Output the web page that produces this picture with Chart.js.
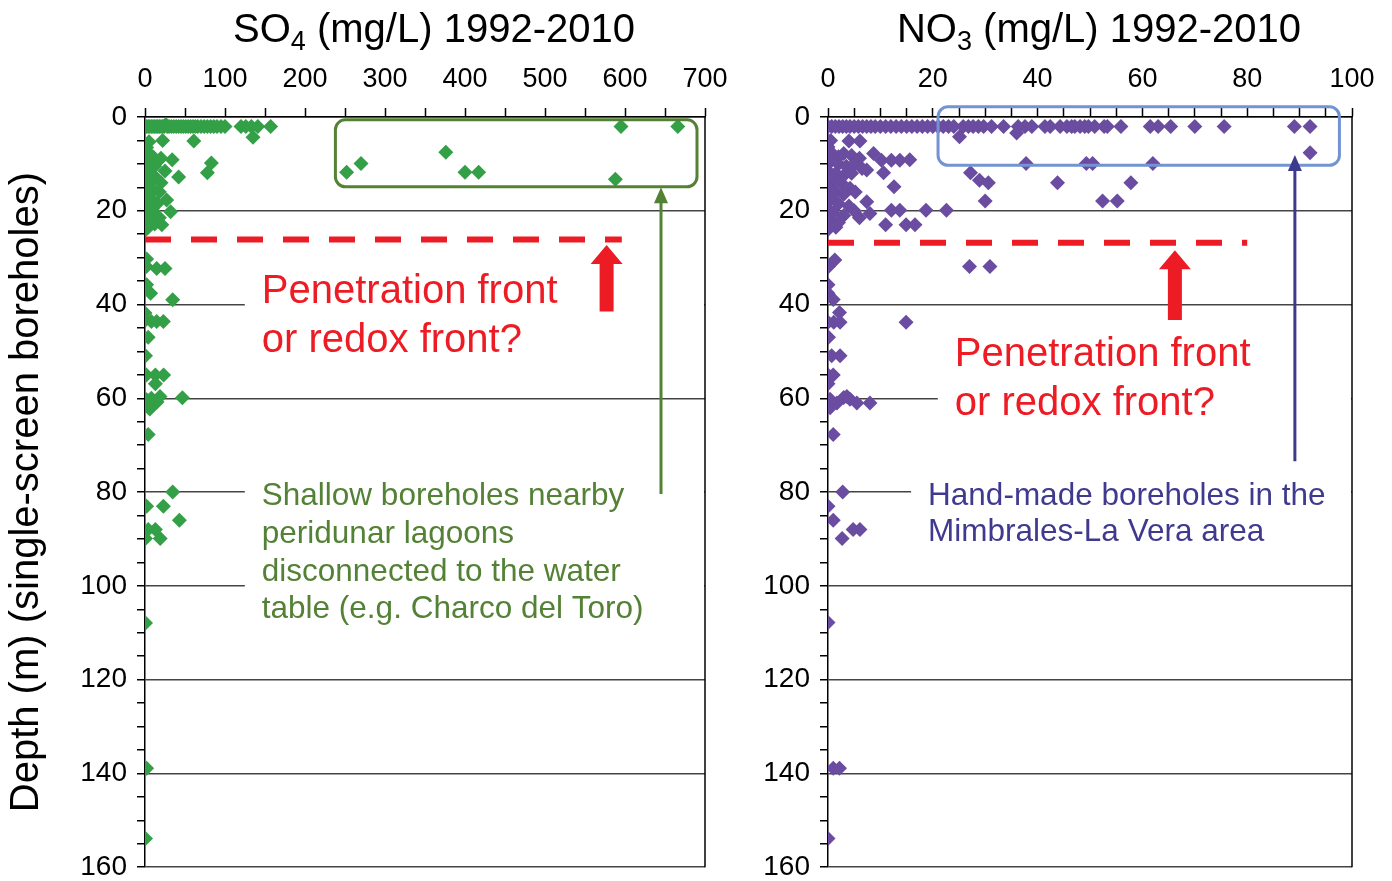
<!DOCTYPE html>
<html lang="en">
<head>
    <meta charset="UTF-8">
    <title>SO4 and NO3 versus depth</title>
    <script src="https://cdn.jsdelivr.net/npm/chart.js"></script>
    <style>
        body {
            margin: 0;
            background: #fff;
            overflow: hidden;
        }
        #wrap {
            position: relative;
            width: 1392px;
            height: 881px;
            overflow: hidden;
        }
        canvas {
            position: absolute;
            top: 0;
        }
        #so4Chart { left: 0; }
        #no3Chart { left: 700px; }
    </style>
</head>
<body>
<div id="wrap">
    <canvas id="so4Chart" width="760" height="894"></canvas>
    <canvas id="no3Chart" width="692" height="894"></canvas>
</div>

<script>
// ---- data ----
// SO4 (mg/L) and depth (m), same order in both arrays
const so4Values = [
    0, 2, 4, 6, 8, 10, 12, 14, 16, 18, 20, 22, 24, 26, 28, 30, 33, 36, 39, 42, 45,
    48, 51, 54, 57, 60, 63, 66, 70, 74, 78, 82, 86, 90, 95, 100, 120, 126, 133, 141, 157,
    595, 666, 376, 270, 252, 400, 417, 588,
    135, 61, 22, 83, 78, 42, 34, 27, 32,
    5, 2, 5, 10, 20, 15, 3, 8, 12, 25, 2, 6, 14, 20, 3, 10, 18, 2, 8, 15, 4, 10, 2, 18, 6, 21, 1, 12, 4, 9,
    0, 0, 0, 1,
    2, 1.7, 14.6, 25, 2, 7, 34.6, 0, 0.6, 8,
    14.6, 23, 4, 0.6, 1.7, 13, 23.3, 13, 2, 46.7,
    18.75, 4, 0, 8, 12, 15, 6, 4, 34.6, 2,
    23, 43, 4, 13, 0.6, 19, 0.6, 2, 0.6
];
const so4Depths = [
    2, 2, 2, 2, 2, 2, 2, 2, 2, 2, 2, 2, 2, 1.6, 2, 2, 2, 2, 2, 2, 2,
    2, 2, 2, 2, 2, 2, 2, 2, 2, 2, 2, 2, 2, 2, 2, 2, 2, 2, 2, 2,
    2, 2, 7.5, 9.9, 11.8, 11.8, 11.8, 13.3,
    4.3, 5.1, 5.0, 9.8, 11.9, 12.8, 9.1, 17.7, 20.2,
    5.3, 6.5, 7.8, 8.5, 8.8, 9.5, 10, 11, 10.5, 11.5, 12.5, 13.5, 13, 14, 15, 15.5, 16, 17, 17.5, 18.5, 19, 20, 21, 21.5, 22, 23, 24, 22.8, 23.5, 19.5,
    14, 18, 20, 9,
    30.3, 31.9, 32.3, 32.3, 35.8, 37.6, 39, 41.8, 43.3, 43.6,
    43.6, 43.6, 47, 50.9, 55, 55, 55, 56.9, 60.3, 59.9,
    59.6, 61.4, 60.5, 60, 61, 60.8, 62.3, 67.7, 80, 83,
    83, 86, 88, 88, 89.9, 89.9, 107.9, 138.9, 153.9
];

// NO3 (mg/L) and depth (m)
const no3Values = [
    0, 0.7, 1.4, 2.1, 2.8, 3.5, 4.2, 5, 5.8, 6.6, 7.4, 8.2, 9, 10, 11, 12, 13, 14, 15, 16,
    17, 18, 19, 20, 21, 22, 23, 24, 25.8, 26.8, 27.7, 28.7, 29.7, 31.2, 33.5, 36.3, 37.6, 38.9, 41.4, 42.4,
    44.3, 45.6, 46.5, 47.1, 48.1, 49, 49.7, 50.9, 52.7, 53.3, 55.9, 61.5, 63, 65.4, 70, 75.6, 89, 92,
    36, 25.1, 0.5, 0, 4, 6.1, 27.2, 28.9, 30.6, 37.8,
    49.3, 50.5, 62, 43.8, 57.8, 30, 52.4, 55.2, 92, 8.7,
    10.2, 12.1, 13.7, 15.6, 10.6, 7.4, 12.6, 4.2,
    5.2, 7.4, 8, 12.1, 13.7, 18.7, 22.6, 11, 14.9, 16.6, 6, 5,
    0, 1, 2, 3, 4.5, 6, 0.5, 2, 3.5, 5, 6.5, 0, 1.5, 3, 4.5,
    1, 2.5, 0, 1.5, 3, 0.5, 2, 4, 0, 1, 3, 0.5, 2, 0, 1.5,
    0.1, 1.3, 27, 30.9, 0, 0, 1, 2.2, 0, 1.1,
    2.3, 14.9, 0.1, 0.7, 2.3, 0, 1, 0, 0.4, 1.7,
    3, 3.6, 4.2, 5.5, 0.4, 8, 1, 2.8, 0, 1,
    2.7, 4.8, 6.1, 0, 1, 2.2, 0
];
const no3Depths = [
    2, 2, 2, 2, 2, 2, 2, 2, 2, 2, 2, 2, 2, 2, 2, 2, 2, 2, 2, 2,
    2, 2, 2, 2, 2, 2, 2, 2, 2, 2, 2, 2, 2, 2, 2, 2, 2, 2, 2, 2,
    2, 2, 2, 2, 2, 2, 2, 2, 2, 2, 2, 2, 2, 2, 2, 2, 2, 2,
    3.4, 4.2, 5, 6.4, 5.1, 5.1, 11.9, 13.5, 14, 9.9,
    9.9, 9.9, 9.9, 14, 14, 17.9, 17.9, 17.9, 7.6, 7.8,
    9.2, 9.2, 9.2, 9.1, 11.9, 11.3, 14.9, 15.2,
    16, 18.1, 20.6, 19.9, 19.9, 19.9, 19.9, 23, 23, 23, 21.5, 20,
    7.5, 8, 8.5, 7.8, 8.2, 8.8, 9.5, 10, 10.5, 10, 11, 11.5, 12, 12.5, 12,
    13.5, 14, 15, 16, 16.5, 17.5, 18.5, 19, 19.5, 20.5, 21, 22, 22.5, 24, 23.5,
    31.9, 30.5, 31.9, 31.9, 35.8, 37.6, 38.9, 41.7, 43.8, 43.8,
    43.8, 43.8, 47, 50.9, 50.9, 55, 55, 56.9, 60.2, 61,
    59.8, 59.6, 60.2, 61, 62, 61, 67.7, 80, 83, 86,
    89.9, 88, 88, 107.8, 138.9, 138.9, 153.9
];

// axis ticks
const so4TickLabels = [0, 100, 200, 300, 400, 500, 600, 700];
const no3TickLabels = [0, 20, 40, 60, 80, 100];
const depthTickLabels = [0, 20, 40, 60, 80, 100, 120, 140, 160];

const FONT = '"Liberation Sans", Arial, sans-serif';
const RED = '#ED1C24';

function toPoints(xs, ys) {
    return xs.map((v, i) => ({ x: v, y: ys[i] }));
}

// draws titles, frame and the hand-drawn notes of the figure, in data units
const notes = {
    id: 'notes',
    afterDatasetsDraw(chart, args, opts) {
        const { ctx, chartArea: a } = chart;
        const X = v => chart.scales.x.getPixelForValue(v);
        const Y = v => chart.scales.y.getPixelForValue(v);
        ctx.save();

        // title with subscript
        const t = opts.title;
        const big = '40px ' + FONT, small = '27px ' + FONT;
        ctx.fillStyle = '#000';
        ctx.textBaseline = 'alphabetic';
        ctx.textAlign = 'left';
        ctx.font = big;
        const w1 = ctx.measureText(t.main).width, w3 = ctx.measureText(t.rest).width;
        ctx.font = small;
        const w2 = ctx.measureText(t.sub).width;
        let tx = (a.left + a.right) / 2 + 9 - (w1 + w2 + w3) / 2;
        ctx.font = big; ctx.fillText(t.main, tx, 42); tx += w1;
        ctx.font = small; ctx.fillText(t.sub, tx, 50); tx += w2;
        ctx.font = big; ctx.fillText(t.rest, tx, 42);

        opts.items.forEach(it => {
            if (it.type === 'text') {
                ctx.font = it.size + 'px ' + FONT;
                const lh = Y(it.y[1]) - Y(it.y[0]);
                ctx.fillStyle = '#fff';
                ctx.fillRect(X(it.x) - 17, Y(it.y[0]) - lh / 2, a.right - X(it.x) + 16, Y(it.y[it.y.length - 1]) - Y(it.y[0]) + lh);
                ctx.fillStyle = it.color;
                ctx.textBaseline = 'middle';
                it.lines.forEach((s, i) => ctx.fillText(s, X(it.x), Y(it.y[i])));
            } else if (it.type === 'dash') {
                ctx.strokeStyle = RED;
                ctx.lineWidth = 6;
                ctx.setLineDash([26, 20]);
                ctx.beginPath();
                ctx.moveTo(X(it.x0), Y(it.y));
                ctx.lineTo(X(it.x1), Y(it.y));
                ctx.stroke();
                ctx.setLineDash([]);
            } else if (it.type === 'box') {
                const x0 = X(it.x0), x1 = X(it.x1), y0 = Y(it.y0), y1 = Y(it.y1), r = 10;
                ctx.strokeStyle = it.color;
                ctx.lineWidth = 3;
                ctx.beginPath();
                ctx.moveTo(x0 + r, y0);
                ctx.arcTo(x1, y0, x1, y1, r);
                ctx.arcTo(x1, y1, x0, y1, r);
                ctx.arcTo(x0, y1, x0, y0, r);
                ctx.arcTo(x0, y0, x1, y0, r);
                ctx.closePath();
                ctx.stroke();
            } else if (it.type === 'bigArrow') {
                const x = X(it.x), tip = Y(it.to), end = Y(it.from);
                ctx.fillStyle = RED;
                ctx.beginPath();
                ctx.moveTo(x, tip);
                ctx.lineTo(x + 16, tip + 19);
                ctx.lineTo(x + 7, tip + 19);
                ctx.lineTo(x + 7, end);
                ctx.lineTo(x - 7, end);
                ctx.lineTo(x - 7, tip + 19);
                ctx.lineTo(x - 16, tip + 19);
                ctx.closePath();
                ctx.fill();
            } else if (it.type === 'arrow') {
                const x = X(it.x), tip = Y(it.to), end = Y(it.from);
                ctx.strokeStyle = it.color;
                ctx.fillStyle = it.color;
                ctx.lineWidth = 3;
                ctx.beginPath();
                ctx.moveTo(x, end);
                ctx.lineTo(x, tip + 12);
                ctx.stroke();
                ctx.beginPath();
                ctx.moveTo(x, tip);
                ctx.lineTo(x + 7, tip + 16);
                ctx.lineTo(x - 7, tip + 16);
                ctx.closePath();
                ctx.fill();
            }
        });

        // right-hand frame line
        ctx.strokeStyle = '#000';
        ctx.lineWidth = 1.5;
        ctx.beginPath();
        ctx.moveTo(a.right, a.top);
        ctx.lineTo(a.right, a.bottom);
        ctx.stroke();
        ctx.restore();
    }
};

function makeChart(id, pts, color, xMax, xStep, xLabels, yWidth, yTitle, padRight, plugOpts) {
    const ctx = document.getElementById(id).getContext('2d');
    return new Chart(ctx, {
        type: 'scatter',
        data: {
            datasets: [{
                data: pts,
                pointStyle: 'rectRot',
                pointRadius: 7.5,
                backgroundColor: color,
                borderColor: color,
                borderWidth: 0
            }]
        },
        options: {
            responsive: false,
            animation: false,
            devicePixelRatio: 1,
            layout: { padding: { left: 0, right: padRight, top: 0, bottom: 2 } },
            plugins: {
                legend: { display: false },
                tooltip: { enabled: false },
                notes: plugOpts
            },
            scales: {
                x: {
                    type: 'linear',
                    position: 'top',
                    min: 0,
                    max: xMax,
                    afterFit: s => { s.height = 117; },
                    afterBuildTicks: s => { s.ticks = []; for (let v = 0; v <= xMax; v += xStep) s.ticks.push({ value: v }); },
                    ticks: {
                        autoSkip: false,
                        maxRotation: 0,
                        padding: 12,
                        color: '#000',
                        font: { family: FONT, size: 27 },
                        callback: v => xLabels.includes(v) ? v : ''
                    },
                    grid: { drawOnChartArea: false, tickLength: 9, tickColor: '#000', tickWidth: 1.5 },
                    border: { color: '#000', width: 1.5 }
                },
                y: {
                    type: 'linear',
                    reverse: true,
                    min: 0,
                    max: 160,
                    afterFit: s => { s.width = yWidth; },
                    afterBuildTicks: s => { s.ticks = []; for (let v = 0; v <= 160; v += 5) s.ticks.push({ value: v }); },
                    ticks: {
                        autoSkip: false,
                        padding: 10,
                        color: '#000',
                        font: { family: FONT, size: 28 },
                        callback: v => depthTickLabels.includes(v) ? v : ''
                    },
                    grid: {
                        color: c => (c.tick && c.tick.value % 20 === 0) ? '#444' : 'rgba(0,0,0,0)',
                        lineWidth: 1.5,
                        tickLength: 8,
                        tickColor: '#000',
                        tickWidth: 1.5
                    },
                    border: { color: '#000', width: 1.5 },
                    title: {
                        display: !!yTitle,
                        text: yTitle,
                        color: '#000',
                        font: { family: FONT, size: 40 },
                        padding: { top: 3, bottom: 0 }
                    }
                }
            }
        },
        plugins: [notes]
    });
}

makeChart('so4Chart', toPoints(so4Values, so4Depths), '#33A047', 700, 50, so4TickLabels, 145,
    'Depth (m) (single-screen boreholes)', 55, {
        title: { main: 'SO', sub: '4', rest: ' (mg/L) 1992-2010' },
        items: [
            { type: 'text', x: 146, y: [37.3, 47.7], size: 40, color: RED,
              lines: ['Penetration front', 'or redox front?'] },
            { type: 'text', x: 146, y: [80.9, 89, 97.1, 105.1], size: 31.5, color: '#538135',
              lines: ['Shallow boreholes nearby', 'peridunar lagoons', 'disconnected to the water', 'table (e.g. Charco del Toro)'] },
            { type: 'dash', x0: 0, x1: 596, y: 26.1 },
            { type: 'bigArrow', x: 577, from: 41.5, to: 27.3 },
            { type: 'box', x0: 238, x1: 690, y0: 0.6, y1: 14.9, color: '#548235' },
            { type: 'arrow', x: 645, from: 80.4, to: 15, color: '#548235' }
        ]
    });

makeChart('no3Chart', toPoints(no3Values, no3Depths), '#6A4CA0', 100, 5, no3TickLabels, 128,
    '', 40, {
        title: { main: 'NO', sub: '3', rest: ' (mg/L) 1992-2010' },
        items: [
            { type: 'text', x: 24.2, y: [50.7, 61.1], size: 40, color: RED,
              lines: ['Penetration front', 'or redox front?'] },
            { type: 'text', x: 19.1, y: [80.9, 88.6], size: 31.5, color: '#3F3A8F',
              lines: ['Hand-made boreholes in the', 'Mimbrales-La Vera area'] },
            { type: 'dash', x0: 0, x1: 80, y: 26.8 },
            { type: 'bigArrow', x: 66.2, from: 43.3, to: 28.4 },
            { type: 'box', x0: 21, x1: 97.6, y0: -2.2, y1: 10.3, color: '#7393D3' },
            { type: 'arrow', x: 89.1, from: 73.4, to: 8.1, color: '#3D3A8E' }
        ]
    });
</script>
</body>
</html>
